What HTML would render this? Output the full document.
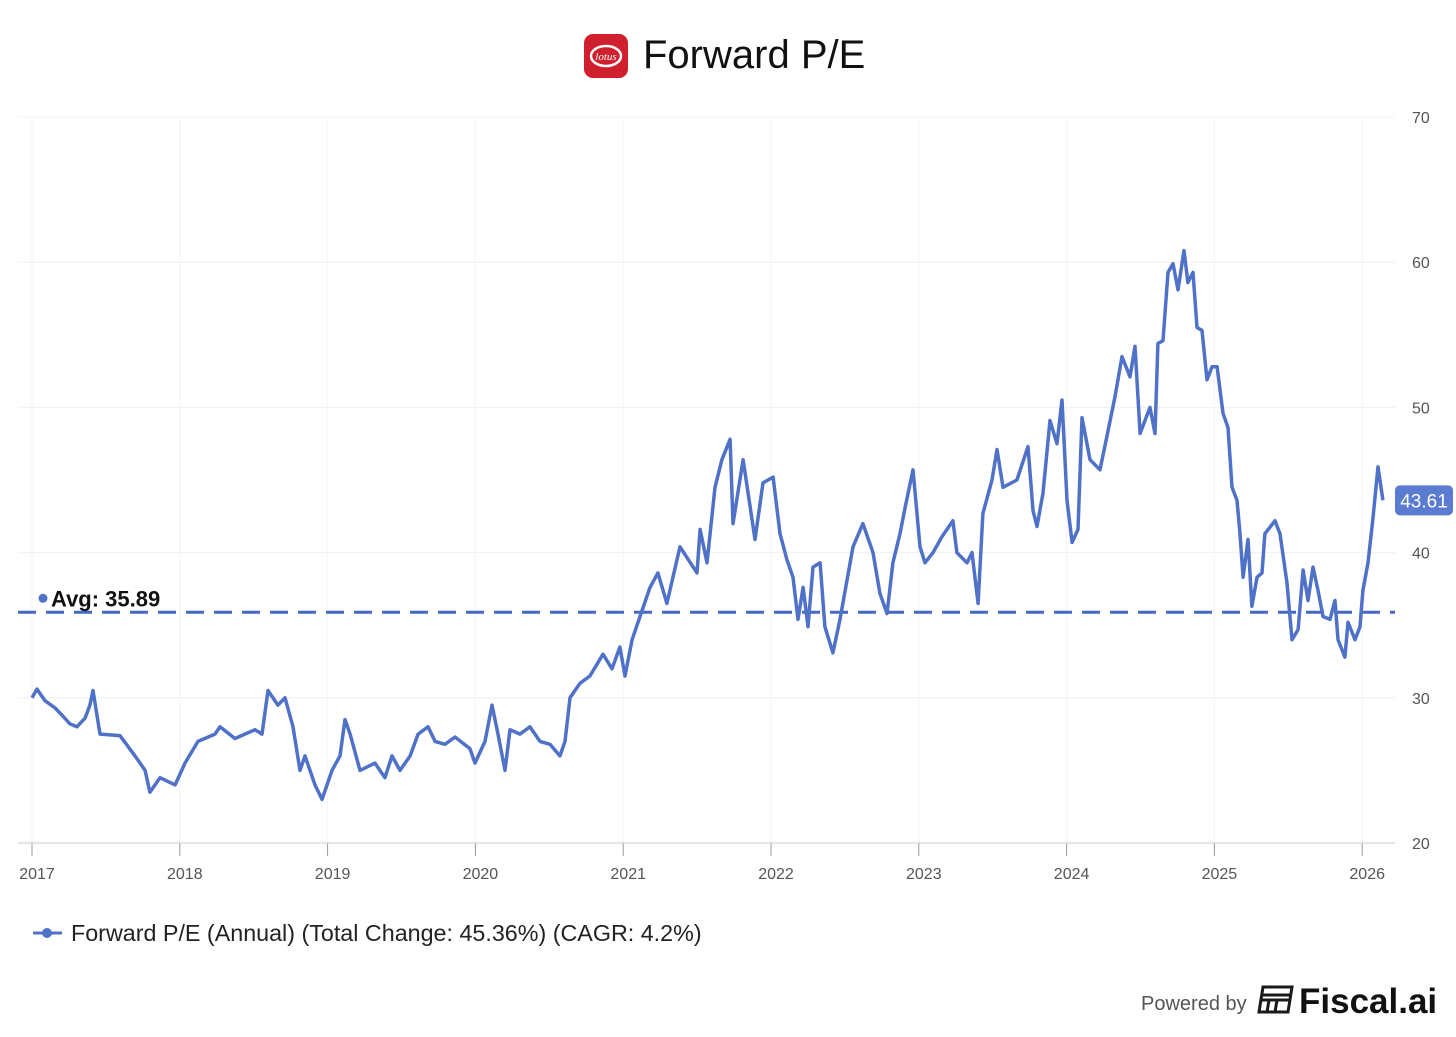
<!DOCTYPE html>
<html><head><meta charset="utf-8">
<style>
body{margin:0;background:#fff;width:1456px;height:1032px;overflow:hidden;font-family:"Liberation Sans",sans-serif;}
</style></head>
<body>
<svg width="1456" height="1032" viewBox="0 0 1456 1032">
  <g>
    <rect x="584" y="34" width="44" height="44" rx="9" fill="#d0202e"/>
    <ellipse cx="606" cy="56" rx="15" ry="10" fill="none" stroke="#fff" stroke-width="2.5"/>
    <text x="606" y="60" font-size="11" font-style="italic" fill="#fff" text-anchor="middle" font-family="Liberation Serif, serif">lotus</text>
    <text x="643" y="68" font-size="40" fill="#111">Forward P/E</text>
  </g>
  <g id="grid"></g>
  <g id="axes"></g>
  <g id="series"></g>
  <g>
    <line x1="33" y1="933" x2="62" y2="933" stroke="#4f72c8" stroke-width="3"/>
    <circle cx="47" cy="933" r="5" fill="#4f72c8"/>
    <text x="71" y="941" font-size="23.3" fill="#222">Forward P/E (Annual) (Total Change: 45.36%) (CAGR: 4.2%)</text>
  </g>
  <g>
    <text x="1141" y="1010" font-size="20" fill="#555">Powered by</text>
    <g fill="none" stroke="#1a1a1a" stroke-width="3">
      <path d="M1263 987 L1292 987 L1288 1012 L1259 1012 Z"/>
      <line x1="1262" y1="995" x2="1290" y2="995"/>
      <line x1="1269" y1="1000" x2="1267" y2="1012"/>
      <line x1="1277" y1="1000" x2="1275" y2="1012"/>
      <line x1="1262" y1="1000" x2="1289" y2="1000"/>
    </g>
    <text x="1299" y="1013" font-size="35" fill="#111" font-weight="bold">Fiscal.ai</text>
  </g>
</svg>
<script>
const yTicks=[20,30,40,50,60,70];
const xYears=[2017,2018,2019,2020,2021,2022,2023,2024,2025,2026];
const avgValue=35.89;
const lastLabel="43.61";
const dates=[0,.034,.088,.156,.203,.257,.304,.359,.392,.413,.460,.595,.697,.765,.798,.866,.968,1.035,1.123,1.238,1.272,1.373,1.509,1.556,1.597,1.664,1.712,1.766,1.813,1.847,1.915,1.962,2.030,2.084,2.118,2.152,2.219,2.321,2.388,2.436,2.490,2.558,2.612,2.679,2.727,2.794,2.862,2.963,2.997,3.065,3.112,3.153,3.200,3.234,3.302,3.369,3.437,3.505,3.572,3.606,3.640,3.708,3.775,3.863,3.924,3.978,4.012,4.060,
4.114,4.181,4.235,4.296,4.384,4.499,4.520,4.567,4.621,4.668,4.723,4.743,4.811,4.892,4.946,5.014,5.061,5.108,5.149,5.183,5.217,5.250,5.284,5.332,5.365,5.419,5.467,5.514,5.555,5.622,5.690,5.737,5.785,5.825,5.873,5.907,5.961,6.008,6.042,6.096,6.157,6.231,6.258,6.326,6.360,6.401,6.434,6.495,6.529,6.570,6.664,6.739,6.773,6.800,6.840,6.888,6.935,6.969,7.003,7.037,7.077,7.104,7.158,7.226,7.273,7.327,7.375,7.429,7.463,7.497,7.564,7.598,7.618,7.652,7.686,7.720,7.754,7.794,7.821,7.855,7.882,7.916,7.950,7.984,8.018,8.058,8.092,8.119,8.153,8.173,8.194,8.227,8.254,8.288,8.322,8.342,8.410,8.444,8.491,8.525,8.566,8.600,8.633,8.667,8.701,8.735,8.782,8.816,8.836,8.883,8.904,8.951,8.985,9.005,9.039,9.073,9.107,9.140];
const values=[30,30.6,29.8,29.3,28.8,28.2,28.0,28.6,29.5,30.5,27.5,27.4,26.0,25.0,23.5,24.5,24.0,25.5,27.0,27.5,28.0,27.2,27.8,27.5,30.5,29.5,30.0,28.0,25.0,26.0,24.0,23.0,25.0,26.0,28.5,27.5,25.0,25.5,24.5,26.0,25.0,26.0,27.5,28.0,27.0,26.8,27.3,26.5,25.5,27.0,29.5,27.5,25.0,27.8,27.5,28.0,27.0,26.8,26.0,27.0,30.0,31.0,31.5,33.0,32.0,33.5,31.5,34.0,
35.6,37.6,38.6,36.5,40.4,38.6,41.6,39.3,44.5,46.4,47.8,42.0,46.4,40.9,44.8,45.2,41.3,39.5,38.3,35.4,37.6,34.9,39.0,39.3,34.9,33.1,35.4,38.1,40.4,42.0,40.0,37.2,35.8,39.3,41.3,43.1,45.7,40.4,39.3,40.0,41.1,42.2,40.0,39.3,40.0,36.5,42.7,45.0,47.1,44.5,45.0,47.3,42.9,41.8,44.1,49.1,47.5,50.5,43.6,40.7,41.6,49.3,46.4,45.7,48.0,50.7,53.5,52.1,54.2,48.2,50.0,48.2,54.4,54.6,59.3,59.9,58.1,60.8,58.6,59.3,55.5,55.3,51.9,52.8,52.8,49.6,48.6,44.5,43.6,41.3,38.3,40.9,36.3,38.3,38.6,41.3,42.2,41.3,37.9,34.0,34.7,38.8,36.7,39.0,37.4,35.6,35.4,36.7,34.0,32.8,35.2,34.0,34.9,37.4,39.3,42.4,45.9,43.6];
const NS="http://www.w3.org/2000/svg";
const X0=32,PXY=147.8,Y0=843,PXV=14.52;
function xs(t){return X0+(t-2017)*PXY;}
function ys(v){return Y0-(v-20)*PXV;}
function mk(tag,attrs,parent){const e=document.createElementNS(NS,tag);for(const k in attrs)e.setAttribute(k,attrs[k]);parent.appendChild(e);return e;}
const grid=document.getElementById('grid'),axes=document.getElementById('axes'),series=document.getElementById('series');
yTicks.forEach(v=>{
  if(v>20){const l=mk('line',{x1:18,x2:1395,y1:ys(v),y2:ys(v),stroke:'#f0f0f0','stroke-width':1},grid);
  
  }
  const t=mk('text',{x:1412,y:ys(v)+6,'font-size':16,fill:'#555'},axes);t.textContent=v;
  
  
});
xYears.forEach(y=>{
  const g=mk('line',{x1:xs(y),x2:xs(y),y1:117,y2:843,stroke:'#f3f3f3','stroke-width':1},grid);
  
  
  const tk=mk('line',{x1:xs(y),x2:xs(y),y1:843,y2:856,stroke:'#999','stroke-width':1},axes);
  
  
  const t=mk('text',{x:xs(y)+5,y:879,'font-size':16,fill:'#555','text-anchor':'middle'},axes);t.textContent=y;
  
  
});
const ax=mk('line',{x1:18,x2:1395,y1:843,y2:843,stroke:'#ccc','stroke-width':1},axes);


const avg=mk('line',{x1:18,x2:1395,y1:ys(avgValue),y2:ys(avgValue),stroke:'#4468c4','stroke-width':3,'stroke-dasharray':'18 10'},series);


const ad=mk('circle',{cx:43,cy:ys(avgValue)-14,r:4.5,fill:'#4f72c8'},series);


const at=mk('text',{x:51,y:ys(avgValue)-6,'font-size':22,'font-weight':'bold',fill:'#111'},series);at.textContent='Avg: '+avgValue;


let d='';dates.forEach((t,i)=>{d+=(i?'L':'M')+xs(2017+t).toFixed(1)+' '+ys(values[i]).toFixed(1);});
const p=mk('path',{d:d,fill:'none',stroke:'#4f72c8','stroke-width':3.5,'stroke-linejoin':'round'},series);


const lv=values[values.length-1];
const b=mk('rect',{x:1395,y:ys(lv)-15,width:58,height:30,rx:5,fill:'#5a7bd0'},series);


const bt=mk('text',{x:1424,y:ys(lv)+7,'font-size':19,fill:'#fff','text-anchor':'middle'},series);bt.textContent=lastLabel;


</script>
</body></html>
